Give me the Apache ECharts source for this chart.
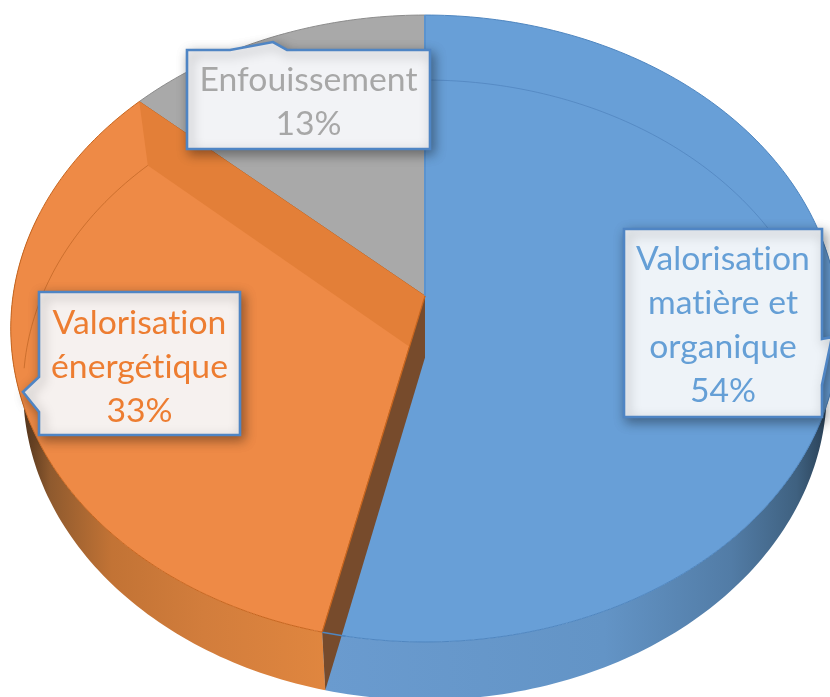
<!DOCTYPE html>
<html><head><meta charset="utf-8">
<style>html,body{margin:0;padding:0;background:#fff}#c{width:830px;height:697px}</style>
<script src="https://cdn.jsdelivr.net/npm/echarts@6/dist/echarts.min.js"></script>
</head><body><div id="c"></div>
<script>
// keep the letters t+i apart, as in the reference's typeface (no ligatures)
(function () {
  const proto = CanvasRenderingContext2D.prototype, ft = proto.fillText;
  proto.fillText = function () { this.letterSpacing = '0.01px'; return ft.apply(this, arguments); };
})();

// ---- data ----
const categories = ['Valorisation matière et organique', 'Valorisation énergétique', 'Enfouissement'];
const values = [53.6, 33.1, 13.3];
const labelLines = [['Valorisation', 'matière et', 'organique'], ['Valorisation', 'énergétique'], ['Enfouissement']];
const percentLabels = ['54%', '33%', '13%'];

// ---- styles ----
const topColors = ['#689fd7', '#ee8a46', '#a9a9a9'];
const edgeColors = ['#4f86c0', '#c8661f', '#8c8c8c'];
const textColors = ['#659fd6', '#ed7d31', '#a7a7a7'];
const boxFills = ['#eef3f8', '#f6f1ef', '#f2f3f6'];
const boxBorder = '#4f85c4';
const wallGradients = [
  { x: 326, x2: 832, stops: [[0, '#6a9bcf'], [0.55, '#6394c6'], [0.8, '#527ca6'], [0.93, '#3f6180'], [1, '#263b4f']] },
  { x: 20, x2: 326, stops: [[0, '#4a301b'], [0.1, '#8f5a2e'], [0.3, '#c27335'], [0.6, '#d27d3c'], [1, '#e0863f']] }
];

// ---- perspective camera for the pie plane ----
const cam = { cx: 425, a: 279.4, b: 296, c: -0.1037, k: 412, depthTop: 65, depthBottom: 58, baseScale: 0.97 };
function project(deg, r, floor) {
  const t = deg * Math.PI / 180, x = r * Math.sin(t), y = -r * Math.cos(t), d = 1 + cam.c * y;
  let X = cam.k * x / d, Y = (cam.a * y + cam.b) / d;
  if (floor) {
    X *= cam.baseScale;
    Y += (cam.depthTop + cam.depthBottom) / 2 + (cam.depthBottom - cam.depthTop) / 2 * y;
  }
  return [cam.cx + X, Y];
}
function arc(from, to, floor) {
  const n = Math.max(2, Math.ceil(Math.abs(to - from))), pts = [];
  for (let i = 0; i <= n; i++) pts.push(project(from + (to - from) * i / n, 1, floor));
  return pts;
}
const total = values.reduce((s, v) => s + v, 0);
function sliceAngles(i) {
  let acc = 0;
  for (let j = 0; j < i; j++) acc += values[j];
  return [acc / total * 360, (acc + values[i]) / total * 360];
}
const apexTop = () => project(0, 0, false);
const apexFloor = () => project(0, 0, true);

// ---- callout layout: box x, y, w, h, pointer polygon ----
const callouts = [
  { x: 624, y: 229, w: 198, h: 188, cy: 259, pointer: [[822, 339], [832, 337], [822, 385]], side: 'right' },
  { x: 39, y: 292, w: 201, h: 143, cy: 323, pointer: [[39, 377], [23, 392], [39, 412]], side: 'left' },
  { x: 187, y: 50, w: 243, h: 99, cy: 80, pointer: [[230, 50], [273, 42], [287, 50]], side: 'top' }
];
const lineGap = 44;
const fontFamily = 'Lato, "Open Sans", sans-serif';

function calloutPath(b) {
  const r = b.x + b.w, bt = b.y + b.h, p = b.pointer;
  if (b.side === 'right') return [[b.x, b.y], [r, b.y], ...p, [r, bt], [b.x, bt]];
  if (b.side === 'left') return [[b.x, b.y], [r, b.y], [r, bt], [b.x, bt], ...p.slice().reverse()];
  return [[b.x, b.y], ...p, [r, b.y], [r, bt], [b.x, bt]];
}

function renderSlice(params, api) {
  const i = params.dataIndex;
  const [a0, a1] = sliceAngles(i);
  const children = [];
  const apex = apexTop(), apexB = apexFloor();
  if (i < 2) {
    const from = i === 0 ? 80 : a0, to = i === 0 ? a1 : 285;
    const top = arc(from, to, false), bot = arc(from, to, true).reverse();
    const g = wallGradients[i];
    children.push({
      type: 'polygon', shape: { points: top.concat(bot) }, z2: 1,
      style: {
        fill: { type: 'linear', global: true, x: g.x, y: 0, x2: g.x2, y2: 0,
          colorStops: g.stops.map(s => ({ offset: s[0], color: s[1] })) },
        stroke: null
      }
    });
  }
  children.push({
    type: 'polygon', z2: 2 + (i === 1 ? 1 : 0),
    shape: { points: [apex].concat(arc(a0, a1, false)) },
    style: { fill: topColors[i], stroke: edgeColors[i], lineWidth: 1 }
  });
  if (i === 0) {
    // see-through rim of the base under the top face
    children.push({ type: 'polyline', z2: 4, shape: { points: arc(0, 85, true) },
      style: { fill: null, stroke: 'rgba(78,130,188,0.7)', lineWidth: 1 } });
    children.push({ type: 'polyline', z2: 4, shape: { points: [project(0, 1, false), apex] },
      style: { fill: null, stroke: '#5a93cf', lineWidth: 2 } });
    children.push({ type: 'polyline', z2: 9, shape: { points: [project(a1, 1, false), project(a1 - 3, 1, false)] },
      style: { fill: null, stroke: '#4f86c0', lineWidth: 1.5 } });
  }
  if (i === 1) {
    // inner cut faces of this slice
    const P = project(a1, 1, false), Pb = project(a1, 1, true);
    children.push({ type: 'polygon', z2: 4, shape: { points: [P, apex, apexB, Pb] },
      style: { fill: '#e37f38', stroke: null } });
    children.push({ type: 'polyline', z2: 4, shape: { points: arc(a1, 268, true) },
      style: { fill: null, stroke: 'rgba(190,100,35,0.7)', lineWidth: 1 } });
    const Q = project(a0, 1, false), Qb = project(a0, 1, true);
    children.push({ type: 'polygon', z2: 8, shape: { points: [apex, Q, Qb, apexB] },
      style: { fill: '#774b2c', stroke: null } });
    children.push({ type: 'polyline', z2: 9, shape: { points: [apex, Q] },
      style: { fill: null, stroke: '#c8661f', lineWidth: 1.2 } });
  }
  return { type: 'group', children };
}

function renderLabel(params, api) {
  const i = params.dataIndex, b = callouts[i];
  const lines = labelLines[i].concat(percentLabels[i]);
  const children = [{
    type: 'polygon', shape: { points: calloutPath(b) },
    style: { fill: boxFills[i], stroke: boxBorder, lineWidth: 2.6, lineJoin: 'miter',
      shadowColor: 'rgba(0,0,0,0.38)', shadowBlur: 12, shadowOffsetX: 3, shadowOffsetY: 4 }
  }];
  lines.forEach((t, n) => children.push({
    type: 'text',
    style: { text: t, x: b.x + b.w / 2, y: b.cy + n * lineGap, align: 'center', verticalAlign: 'middle',
      fill: textColors[i], font: '33.7px ' + fontFamily }
  }));
  return { type: 'group', children };
}

const chart = echarts.init(document.getElementById('c'), null, { renderer: 'canvas', width: 830, height: 697 });
chart.setOption({
  animation: false,
  backgroundColor: '#fff',
  series: [
    { type: 'custom', coordinateSystem: 'none', renderItem: renderSlice, z: 1, silent: true,
      data: categories.map((n, i) => ({ name: n, value: values[i] })) },
    { type: 'custom', coordinateSystem: 'none', renderItem: renderLabel, z: 2, silent: true,
      data: categories.map((n, i) => ({ name: n, value: values[i] })) }
  ]
});
</script></body></html>
